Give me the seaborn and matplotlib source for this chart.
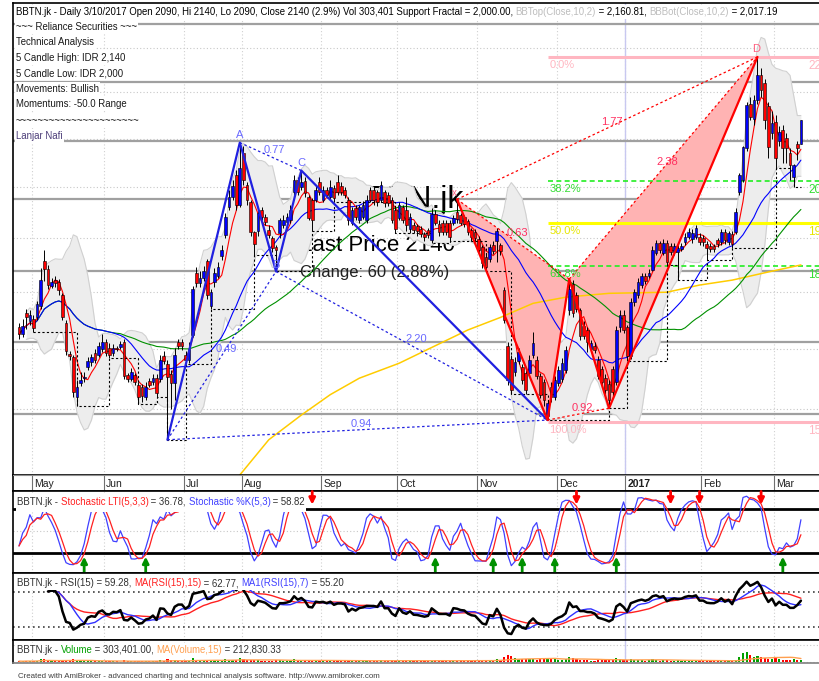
import numpy as np
import pandas as pd
import seaborn as sns
import matplotlib
matplotlib.use("Agg")
import matplotlib.pyplot as plt
from matplotlib.patches import Rectangle
from matplotlib.transforms import IdentityTransform

# ----------------------------------------
# Data: BBTN.jk daily bars, late Apr 2016 -> 10 Mar 2017
# ----------------------------------------

opens = [
    1738, 1726, 1762, 1748, 1753, 1755, 1775, 1857, 1842, 1812, 1822, 1819, 1795, 1745, 1692, 1686, 1620, 1643, 1651, 1670, 1678, 1693, 1690, 1700,
    1712, 1702, 1694, 1702, 1703, 1712, 1656, 1650, 1656, 1640, 1636, 1620, 1646, 1645, 1652, 1650, 1688, 1675, 1658, 1643, 1712, 1712,
    1690, 1682, 1725, 1836, 1816, 1826, 1857, 1775, 1818, 1830, 1866, 1906, 1960, 1980, 2024, 1965,
    2070, 2005, 1970, 1912, 1915, 1955, 1942, 1916, 1900, 1884, 1910, 1926, 1932, 1935, 1990, 2015, 2000, 2012, 1980, 1975, 1975, 2010,
    1975, 1995, 1980, 1998, 2010, 2002, 1995, 1975, 1930, 1958, 1935, 1942, 1935, 1995, 1995, 1990, 1975, 1990, 1985, 1975, 1955,
    1940, 1960, 1955, 1918, 1926, 1924, 1918, 1908, 1916, 1897, 1947, 1928, 1930, 1930, 1930, 1930, 1952, 1946, 1941, 1933, 1916, 1912,
    1899, 1884, 1865, 1861, 1888, 1895, 1888, 1804, 1705, 1684, 1662, 1680, 1670, 1660, 1660, 1690, 1682, 1655, 1644, 1590, 1637, 1620,
    1643, 1650, 1665, 1768, 1815, 1795, 1768, 1740, 1733, 1700, 1706, 1682, 1667, 1652, 1642, 1667, 1645, 1738, 1760,
    1738, 1688, 1782, 1795, 1814, 1830, 1830, 1841, 1872, 1891, 1872, 1891, 1885, 1874, 1874, 1880, 1893, 1903, 1898, 1903, 1903,
    1900, 1890, 1886, 1886, 1897, 1893, 1912, 1893, 1908, 1912, 1990, 2015, 2080, 2175, 2142, 2184, 2240, 2222, 2170, 2112,
    2135, 2095, 2118, 2102, 2070, 2020, 2090, 2090,
]
highs = [
    1745, 1752, 1770, 1768, 1760, 1785, 1845, 1878, 1850, 1825, 1830, 1824, 1798, 1750, 1696, 1690, 1648, 1662, 1662, 1686, 1692, 1700, 1712, 1726,
    1718, 1710, 1708, 1706, 1714, 1718, 1660, 1668, 1660, 1645, 1642, 1645, 1652, 1658, 1658, 1690, 1696, 1682, 1665, 1702, 1718, 1718,
    1696, 1712, 1812, 1846, 1838, 1848, 1862, 1805, 1845, 1855, 1888, 1950, 1995, 2015, 2035, 2092,
    2085, 2010, 1975, 1915, 1958, 1960, 1948, 1925, 1905, 1888, 1940, 1945, 1950, 1965, 2025, 2020, 2034, 2020, 1985, 1978, 2005, 2020,
    2002, 2000, 2015, 2005, 2025, 2010, 2000, 1980, 1960, 1965, 1965, 1972, 1985, 2000, 2002, 1995, 2012, 1995, 1990, 1980, 1960,
    1970, 1965, 1980, 1950, 1932, 1928, 1924, 1912, 1920, 1958, 1955, 1935, 1935, 1936, 1936, 1946, 1976, 1950, 1946, 1938, 1920, 1918,
    1904, 1888, 1870, 1890, 1895, 1920, 1892, 1810, 1712, 1690, 1686, 1702, 1675, 1665, 1690, 1730, 1688, 1660, 1650, 1615, 1645, 1655,
    1672, 1685, 1705, 1824, 1822, 1800, 1772, 1748, 1738, 1716, 1712, 1688, 1672, 1658, 1648, 1672, 1740, 1768, 1768,
    1742, 1790, 1806, 1825, 1836, 1836, 1842, 1885, 1897, 1895, 1898, 1897, 1892, 1892, 1888, 1892, 1910, 1920, 1918, 1926, 1910,
    1906, 1895, 1892, 1890, 1900, 1918, 1918, 1915, 1914, 1958, 2030, 2085, 2180, 2190, 2195, 2280, 2255, 2230, 2180, 2160,
    2150, 2128, 2130, 2112, 2080, 2048, 2095, 2140,
]
lows = [
    1718, 1720, 1735, 1742, 1730, 1750, 1770, 1820, 1805, 1808, 1810, 1795, 1750, 1690, 1682, 1620, 1605, 1638, 1645, 1665, 1672, 1676, 1686, 1695,
    1688, 1685, 1688, 1696, 1700, 1650, 1645, 1646, 1640, 1608, 1612, 1615, 1636, 1640, 1620, 1645, 1675, 1552, 1600, 1615, 1700, 1698,
    1675, 1676, 1720, 1810, 1810, 1820, 1788, 1770, 1810, 1825, 1860, 1900, 1955, 1975, 1955, 1960,
    2005, 1965, 1905, 1868, 1905, 1935, 1925, 1900, 1875, 1838, 1900, 1920, 1925, 1930, 1985, 1985, 1995, 1980, 1935, 1915, 1970, 1985,
    1970, 1978, 1975, 1970, 1985, 1985, 1978, 1925, 1925, 1935, 1930, 1938, 1930, 1970, 1965, 1962, 1970, 1960, 1962, 1930, 1910,
    1935, 1930, 1915, 1910, 1910, 1905, 1902, 1895, 1900, 1892, 1925, 1905, 1906, 1906, 1896, 1925, 1930, 1925, 1922, 1906, 1896, 1894,
    1872, 1845, 1838, 1855, 1870, 1855, 1868, 1745, 1640, 1625, 1655, 1675, 1642, 1625, 1655, 1685, 1650, 1618, 1605, 1583, 1612, 1615,
    1638, 1645, 1660, 1760, 1755, 1765, 1715, 1718, 1695, 1695, 1694, 1650, 1640, 1625, 1602, 1620, 1640, 1730, 1728,
    1680, 1684, 1776, 1790, 1808, 1815, 1826, 1838, 1868, 1872, 1868, 1850, 1868, 1868, 1822, 1876, 1888, 1898, 1892, 1898, 1888,
    1885, 1860, 1875, 1874, 1884, 1888, 1890, 1888, 1882, 1908, 1985, 2010, 2075, 2140, 2130, 2175, 2190, 2120, 2060, 2100,
    2040, 2085, 2050, 2050, 2015, 2000, 2055, 2090,
]
closes = [
    1726, 1740, 1755, 1760, 1736, 1778, 1822, 1842, 1813, 1818, 1817, 1804, 1755, 1696, 1688, 1628, 1636, 1648, 1652, 1679, 1686, 1682, 1705, 1712,
    1693, 1690, 1702, 1700, 1709, 1654, 1650, 1662, 1644, 1620, 1622, 1636, 1640, 1652, 1626, 1682, 1680, 1653, 1643, 1690, 1705, 1705,
    1682, 1700, 1806, 1816, 1826, 1838, 1795, 1800, 1836, 1846, 1878, 1941, 1981, 2002, 1965, 2040,
    2015, 1975, 1912, 1889, 1950, 1942, 1932, 1907, 1882, 1878, 1935, 1935, 1942, 1955, 2015, 1990, 2010, 1988, 1940, 1935, 1995, 1990,
    1995, 1985, 2000, 1978, 1990, 1990, 1985, 1935, 1955, 1942, 1960, 1965, 1975, 1975, 1975, 1970, 2005, 1968, 1968, 1935, 1918,
    1965, 1935, 1925, 1941, 1916, 1914, 1908, 1902, 1906, 1947, 1930, 1912, 1912, 1912, 1902, 1940, 1937, 1930, 1928, 1912, 1903, 1900,
    1878, 1853, 1846, 1884, 1876, 1914, 1876, 1750, 1648, 1632, 1678, 1695, 1648, 1632, 1682, 1711, 1655, 1624, 1615, 1610, 1620, 1648,
    1665, 1676, 1698, 1806, 1762, 1770, 1722, 1722, 1712, 1711, 1698, 1655, 1645, 1632, 1615, 1628, 1733, 1760, 1733,
    1688, 1782, 1800, 1818, 1830, 1820, 1836, 1878, 1891, 1878, 1891, 1855, 1874, 1885, 1882, 1886, 1903, 1912, 1910, 1920, 1893,
    1893, 1882, 1880, 1880, 1890, 1912, 1897, 1910, 1890, 1952, 2025, 2082, 2172, 2147, 2184, 2240, 2205, 2140, 2082, 2133,
    2060, 2115, 2080, 2080, 2045, 2045, 2080, 2140,
]
# volume in thousands of shares
volumes = [
    150, 120, 180, 140, 160, 210, 380, 420, 260, 150, 130, 170, 220, 300, 140, 330, 260, 150, 120, 140, 130, 110, 160, 180,
    140, 130, 120, 110, 100, 250, 160, 120, 140, 200, 150, 130, 110, 120, 180, 220, 160, 380, 260, 300, 150, 120,
    110, 140, 520, 300, 200, 180, 260, 230, 240, 210, 260, 380, 300, 280, 320, 450,
    350, 260, 300, 240, 220, 180, 170, 200, 210, 260, 230, 180, 170, 190, 330, 250, 220, 230, 260, 280, 210, 200,
    190, 170, 210, 180, 200, 170, 160, 240, 190, 180, 200, 170, 210, 190, 180, 170, 220, 180, 170, 230, 210,
    190, 170, 230, 250, 180, 170, 160, 150, 170, 160, 300, 210, 180, 170, 160, 170, 190, 250, 180, 170, 200, 190,
    210, 280, 240, 260, 230, 360, 260, 600, 800, 700, 500, 420, 380, 360, 330, 400, 300, 360, 340, 520, 400, 330,
    300, 320, 350, 650, 500, 380, 300, 260, 220, 210, 200, 260, 240, 250, 300, 230, 450, 380, 280,
    250, 420, 300, 280, 240, 200, 230, 380, 260, 200, 240, 260, 200, 180, 250, 210, 200, 230, 200, 180, 170,
    180, 200, 170, 160, 170, 160, 220, 190, 170, 230, 650, 1050, 1200, 800, 650, 700, 600, 480, 400, 380,
    480, 350, 300, 280, 300, 330, 250, 303,
]

month_labels = ["May", "Jun", "Jul", "Aug", "Sep", "Oct", "Nov", "Dec", "2017", "Feb", "Mar"]
month_first_bar = [4, 24, 46, 62, 84, 105, 127, 149, 168, 189, 209]

# long MA (its history starts before the visible window), sampled off the chart
long_ma_bar = [61, 69, 78, 86, 94, 105, 124, 133, 142, 151, 163, 179, 188, 197, 207, 216]
long_ma_val = [1498, 1552, 1591, 1624, 1651, 1676, 1733, 1755, 1780, 1791, 1798, 1800, 1813, 1822, 1837, 1850]

# harmonic patterns X, A, B, C, D
blue_pts_bar = [41, 61, 71, 78, 146]
blue_pts_val = [1552, 2092, 1838, 2034, 1583]
blue_ratios = ["0.49", "0.77", "2.20", "0.94"]     # XB, AC, BD, XD
red_pts_bar = [121, 146, 152, 163, 204]
red_pts_val = [1976, 1583, 1824, 1602, 2280]
red_ratios = ["0.63", "0.92", "2.38", "1.77"]      # XB, AC, BD, XD

fib_hi, fib_lo = 2280, 1580
fib_pcts = [0.0, 38.2, 50.0, 61.8, 100.0]
fib_colors = ["#FFB6C1", "#22EE22", "#FFFF00", "#22EE22", "#FFB6C1"]
fib_text_colors = ["#FFB6C1", "#33DD33", "#E6E600", "#33DD33", "#FFB6C1"]

level_lines = [2357, 2224, 2095, 1977, 1839, 1713, 1593]

buy_bars = [18, 35, 115, 131, 139, 148, 165, 211]
sell_bars = [81, 154, 180, 188, 205]

# ----------------------------------------
# Indicators
# ----------------------------------------

df = pd.DataFrame({"open": opens, "high": highs, "low": lows, "close": closes, "volume": volumes})
df["bar"] = np.arange(len(df))
df["ma5"] = df["close"].rolling(5, min_periods=1).mean()
df["ma25"] = df["close"].rolling(25, min_periods=1).mean()
df["ma50"] = df["close"].rolling(50, min_periods=1).mean()
mid = df["close"].rolling(10, min_periods=3).mean()
sd = df["close"].rolling(10, min_periods=3).std(ddof=0)
df["bb_top"] = mid + 2 * sd
df["bb_bot"] = mid - 2 * sd

lo_arr = df["low"].to_numpy()
is_frac = np.zeros(len(df), dtype=bool)
for j in range(2, len(df) - 2):
    others = np.r_[lo_arr[j - 2:j], lo_arr[j + 1:j + 3]]
    is_frac[j] = lo_arr[j] < others.min()
df["support"] = df["low"].where(is_frac).ffill()

ll = df["low"].rolling(5, min_periods=1).min()
hh = df["high"].rolling(5, min_periods=1).max()
raw = 100 * (df["close"] - ll) / (hh - ll)
df["stoch_k"] = raw.rolling(3, min_periods=1).mean()
df["stoch_d"] = df["stoch_k"].rolling(3, min_periods=1).mean()

delta = df["close"].diff()
gain = delta.clip(lower=0).ewm(alpha=1 / 15, min_periods=8).mean()
loss = (-delta.clip(upper=0)).ewm(alpha=1 / 15, min_periods=8).mean()
df["rsi"] = 100 - 100 / (1 + gain / loss)
df["rsi_ma15"] = df["rsi"].rolling(15, min_periods=1).mean()
df["rsi_ma7"] = df["rsi"].rolling(7, min_periods=1).mean()
df["vol_ma15"] = df["volume"].rolling(15, min_periods=1).mean()

# ----------------------------------------
# Figure layout
# ----------------------------------------

sns.set_theme(style="white")
plt.rcParams["font.family"] = ["Liberation Sans", "DejaVu Sans"]

W, H = 820, 681
fig = plt.figure(figsize=(W / 100, H / 100), dpi=100, facecolor="white")


def panel(top, bottom, left=13, right=822):
    return fig.add_axes([left / W, 1 - bottom / H, (right - left) / W, (bottom - top) / H])


ax_main = panel(3, 475)
ax_date = panel(475, 491)
ax_sto = panel(491, 573)
ax_rsi = panel(573, 640)
ax_vol = panel(640, 663)

x_lo, x_hi = (13 - 19) / 3.62, (822 - 19) / 3.62
for ax in [ax_main, ax_date, ax_sto, ax_rsi, ax_vol]:
    ax.set_xlim(x_lo, x_hi)
    ax.set_facecolor("white")
    ax.tick_params(which="both", left=False, bottom=False, labelleft=False, labelbottom=False)
    for name, sp in ax.spines.items():
        sp.set_color("black")
        sp.set_linewidth(1.2)
    ax.spines["right"].set_visible(False)
ax_date.spines["top"].set_color("#909090")
ax_date.spines["top"].set_linewidth(0.8)
ax_vol.spines["bottom"].set_color("#808080")


def ax_frac(ax, x_px, y_px):
    b = ax.get_position()
    return (x_px / W - b.x0) / b.width, ((1 - y_px / H) - b.y0) / b.height


# vertical month grid + year divider
for ax in [ax_main, ax_sto, ax_rsi, ax_vol]:
    for b in month_first_bar:
        ax.axvline(b - 0.5, color="#D0D0D0", ls=(0, (1, 2)), lw=0.8, zorder=0)
    ax.axvline(month_first_bar[8] - 0.5, color="#C8C8F0", lw=1, zorder=0.2)

# ----------------------------------------
# Main price panel
# ----------------------------------------

ax = ax_main
ax.set_yscale("log")
ax.set_ylim(1498, 2407)
ax.minorticks_off()
ax.set_yticks([])

for p in range(1600, 2400, 100):
    ax.axhline(p, color="#C8C8C8", ls=(0, (1, 2)), lw=0.8, zorder=0)
for p in level_lines:
    ax.axhline(p, color="#A0A0A0", lw=1.6, zorder=0.3)

# big watermark texts (sit under the band and candles)
ax.text(*ax_frac(ax, 405, 200), "BBTN.jk", transform=ax.transAxes, fontsize=23,
        ha="center", va="center", color="black", zorder=0.5)
ax.text(*ax_frac(ax, 378, 246), "Last Price 2140", transform=ax.transAxes, fontsize=16,
        ha="center", va="center", color="black", zorder=0.5)
ax.text(*ax_frac(ax, 375, 273), "Change: 60 (2.88%)", transform=ax.transAxes, fontsize=12,
        ha="center", va="center", color="#202020", zorder=0.5)

# bollinger cloud
ax.fill_between(df["bar"], df["bb_bot"], df["bb_top"], color="#EDEDED", lw=0, zorder=1)
sns.lineplot(x=df["bar"], y=df["bb_top"], ax=ax, color="#D0D0D0", lw=0.8, zorder=1.1, legend=False)
sns.lineplot(x=df["bar"], y=df["bb_bot"], ax=ax, color="#D0D0D0", lw=0.8, zorder=1.1, legend=False)

# red harmonic pattern fill
for tri in [(0, 1, 2), (2, 3, 4)]:
    ax.fill([red_pts_bar[k] for k in tri], [red_pts_val[k] for k in tri],
            color="#FFB3B3", lw=0, zorder=1.5)

# fibonacci levels from the red pattern A leg
for pct, col, tcol in zip(fib_pcts, fib_colors, fib_text_colors):
    price = fib_hi - pct / 100 * (fib_hi - fib_lo)
    dashed = pct in (38.2, 61.8)
    ax.hlines(price, red_pts_bar[1], x_hi, color=col, lw=1.2 if dashed else 2.2,
              ls=(0, (3, 2)) if dashed else "-", zorder=1.8)
    ax.annotate(f"{pct:.1f}%", (red_pts_bar[1] + 0.5, price), xytext=(0, -2),
                textcoords="offset points", color=tcol, fontsize=8, va="top", ha="left", zorder=7)
    ax.annotate(f"{price:.2f}", (218, price), xytext=(0, -2), textcoords="offset points",
                color=tcol, fontsize=8.5, va="top", ha="left", zorder=7, annotation_clip=False)

# moving averages
ax.plot(long_ma_bar, long_ma_val, color="#FFCC00", lw=1.1, zorder=2)
sns.lineplot(x=df["bar"], y=df["ma50"], ax=ax, color="#009000", lw=0.8, zorder=2.1, legend=False)
sns.lineplot(x=df["bar"], y=df["ma25"], ax=ax, color="#0000FF", lw=0.8, zorder=2.2, legend=False)
sns.lineplot(x=df["bar"], y=df["ma5"], ax=ax, color="#FF0000", lw=0.8, zorder=2.3, legend=False)

# fractal support steps
ax.step(df["bar"], df["support"], where="post", color="black", ls=(0, (2, 2)), lw=0.8, zorder=3)

# candles
up = df["close"] >= df["open"]
body_lo = df[["open", "close"]].min(axis=1)
body_h = (df["close"] - df["open"]).abs().clip(lower=2)
ax.vlines(df["bar"], df["low"], df["high"], color="black", lw=0.7, zorder=4)
ax.bar(df["bar"], body_h, bottom=body_lo, width=0.75,
       color=np.where(up, "#0000FF", "#FF0000"), edgecolor="black", linewidth=0.4, zorder=5)

# harmonic pattern lines
pairs = [(0, 2), (1, 3), (2, 4), (0, 4)]
for xs, ys, col, lcol, ratios in [(blue_pts_bar, blue_pts_val, "#2020E0", "#6A6AFF", blue_ratios),
                                  (red_pts_bar, red_pts_val, "#FF0000", "#FF3060", red_ratios)]:
    ax.plot(xs, ys, color=col, lw=1.6, zorder=6)
    for (a, b), lab in zip(pairs, ratios):
        ax.plot([xs[a], xs[b]], [ys[a], ys[b]], color=col, ls=(0, (2, 2)), lw=0.9, zorder=6)
        ax.annotate(lab, ((xs[a] + xs[b]) / 2, np.sqrt(ys[a] * ys[b])), xytext=(3, 1),
                    textcoords="offset points", color=lcol, fontsize=8, ha="center", va="bottom", zorder=7)

for lab, k in [("A", 1), ("C", 3)]:
    ax.annotate(lab, (blue_pts_bar[k], blue_pts_val[k]), xytext=(0, 2), textcoords="offset points",
                color="#6A6AFF", fontsize=8, ha="center", va="bottom", zorder=7)
ax.annotate("B", (blue_pts_bar[2], blue_pts_val[2]), xytext=(0, 1), textcoords="offset points",
            color="#6A6AFF", fontsize=8, ha="center", va="bottom", zorder=7)
ax.annotate("D", (red_pts_bar[4], red_pts_val[4]), xytext=(-1, 2), textcoords="offset points",
            color="#FF6080", fontsize=8, ha="center", va="bottom", zorder=7)
ax.annotate("x", (red_pts_bar[0], red_pts_val[0]), xytext=(-2, 1), textcoords="offset points",
            color="#FF6080", fontsize=7, ha="center", va="bottom", zorder=7)

# ----------------------------------------
# Date strip
# ----------------------------------------

ax_date.set_ylim(0, 1)
for b, lab in zip(month_first_bar, month_labels):
    ax_date.vlines(b - 0.5, 0, 1, color="#707070", lw=0.8)
    ax_date.text(b + 0.1, 0.45, lab, fontsize=7.5, va="center", ha="left",
                 fontweight="bold" if lab == "2017" else "normal", color="#202020")

# ----------------------------------------
# Stochastic panel
# ----------------------------------------

ax = ax_sto
ax.set_ylim(-7.3, 104.6)
ax.axhline(80, color="black", lw=2, zorder=1)
ax.axhline(20, color="black", lw=2, zorder=1)
ax.axhline(50, color="#C8C8C8", ls=(0, (1, 2)), lw=0.8, zorder=0)
sns.lineplot(x=df["bar"], y=df["stoch_k"], ax=ax, color="#4040FF", lw=0.9, zorder=2, legend=False)
sns.lineplot(x=df["bar"], y=df["stoch_d"], ax=ax, color="#FF2020", lw=0.9, zorder=2, legend=False)
for b in buy_bars:
    ax.annotate("", xy=(b, 15), xytext=(b, -7), zorder=3, annotation_clip=False,
                arrowprops=dict(arrowstyle="-|>", color="#009000", lw=2, mutation_scale=9,
                                shrinkA=0, shrinkB=0))
for b in sell_bars:
    ax.annotate("", xy=(b, 86), xytext=(b, 104), zorder=3, annotation_clip=False,
                arrowprops=dict(arrowstyle="-|>", color="#FF0000", lw=2, mutation_scale=9,
                                shrinkA=0, shrinkB=0))

# ----------------------------------------
# RSI panel
# ----------------------------------------

ax = ax_rsi
ax.set_ylim(15.1, 91.7)
ax.axhline(70, color="#404040", ls=(0, (1, 2)), lw=1.2, zorder=0)
ax.axhline(30, color="#404040", ls=(0, (1, 2)), lw=1.2, zorder=0)
sns.lineplot(x=df["bar"], y=df["rsi_ma15"], ax=ax, color="#FF2020", lw=1, zorder=2, legend=False)
sns.lineplot(x=df["bar"], y=df["rsi_ma7"], ax=ax, color="#3030FF", lw=1, zorder=2, legend=False)
sns.lineplot(x=df["bar"], y=df["rsi"], ax=ax, color="black", lw=1.8, zorder=3, legend=False)

# ----------------------------------------
# Volume panel
# ----------------------------------------

ax = ax_vol
ax.set_ylim(-60, 2500)
ax.axhline(1900, color="#C8C8C8", ls=(0, (1, 2)), lw=0.8, zorder=0)
ax.axhline(0, color="#C8C8C8", ls=(0, (1, 2)), lw=0.8, zorder=0)
ax.bar(df["bar"], df["volume"], width=0.6, color=np.where(up, "#00A000", "#FF0000"), lw=0, zorder=2)
sns.lineplot(x=df["bar"], y=df["vol_ma15"], ax=ax, color="#FFA050", lw=1, zorder=3, legend=False)

for ax in [ax_main, ax_date, ax_sto, ax_rsi, ax_vol]:
    ax.set_xlabel("")
    ax.set_ylabel("")
    ax.set_xlim(x_lo, x_hi)

# ----------------------------------------
# Titles and notes (pixel placed, white backed)
# ----------------------------------------

renderer = fig.canvas.get_renderer()
title_parts = [
    ("BBTN.jk - Daily 3/10/2017 Open 2090, Hi 2140, Lo 2090, Close 2140 (2.9%) Vol 303,401 Support Fractal = 2,000.00, ", "black"),
    ("BBTop(Close,10,2)", "#BDBDBD"),
    (" = 2,160.81, ", "black"),
    ("BBBot(Close,10,2)", "#BDBDBD"),
    (" = 2,017.19", "black"),
]
probe = fig.text(0, 0, "".join(s for s, _ in title_parts), fontsize=10)
fs = 10 * 762 / probe.get_window_extent(renderer).width
probe.remove()


def put_segments(x_px, y_px, parts, size, pad=2):
    # white backing box behind the whole line, then the coloured pieces side by side
    probe = fig.text(x_px / W, 1 - y_px / H, "".join(s for s, _ in parts), fontsize=size,
                     ha="left", va="center")
    bb = probe.get_window_extent(renderer)
    probe.remove()
    fig.patches.append(Rectangle((bb.x0 - 1, bb.y0 - pad), bb.width + 2, bb.height + 2 * pad,
                                 transform=IdentityTransform(), facecolor="white",
                                 edgecolor="none", zorder=19, figure=fig))
    for s, c in parts:
        t = fig.text(x_px / W, 1 - y_px / H, s, color=c, fontsize=size, ha="left", va="center", zorder=20)
        x_px += t.get_window_extent(renderer).width


put_segments(16, 12, title_parts, fs)

notes = ["~~~ Reliance Securities ~~~", "Technical Analysis", "5 Candle High: IDR 2,140",
         "5 Candle Low: IDR 2,000", "Movements: Bullish", "Momentums: -50.0 Range",
         "~~~~~~~~~~~~~~~~~~~~~~", "Lanjar Nafi"]
note_y = [27, 42, 58, 73, 89, 104, 121, 136]
for txt, y in zip(notes, note_y):
    col = "#4B3C78" if txt == "Lanjar Nafi" else "#1A1A1A"
    put_segments(16, y, [(txt, col)], fs)

put_segments(17, 502, [("BBTN.jk - ", "#303030"), ("Stochastic LTI(5,3,3)", "#FF2020"),
                       (" = 36.78, ", "#303030"), ("Stochastic %K(5,3)", "#4040FF"),
                       (" = 58.82", "#303030")], fs, pad=4.5)
put_segments(17, 583, [("BBTN.jk - RSI(15) = 59.28, ", "#303030"), ("MA(RSI(15),15)", "#FF2020"),
                       (" = 62.77, ", "#303030"), ("MA1(RSI(15),7)", "#4040FF"),
                       (" = 55.20", "#303030")], fs)
put_segments(17, 650, [("BBTN.jk - ", "#303030"), ("Volume", "#00A000"),
                       (" = 303,401.00, ", "#303030"), ("MA(Volume,15)", "#FFA050"),
                       (" = 212,830.33", "#303030")], fs)

fig.text(18 / W, 1 - 677 / H,
         "Created with AmiBroker - advanced charting and technical analysis software. http://www.amibroker.com",
         fontsize=fs * 0.82, color="#404040", ha="left", va="center")

fig.savefig("out.png", dpi=100, facecolor="white")
